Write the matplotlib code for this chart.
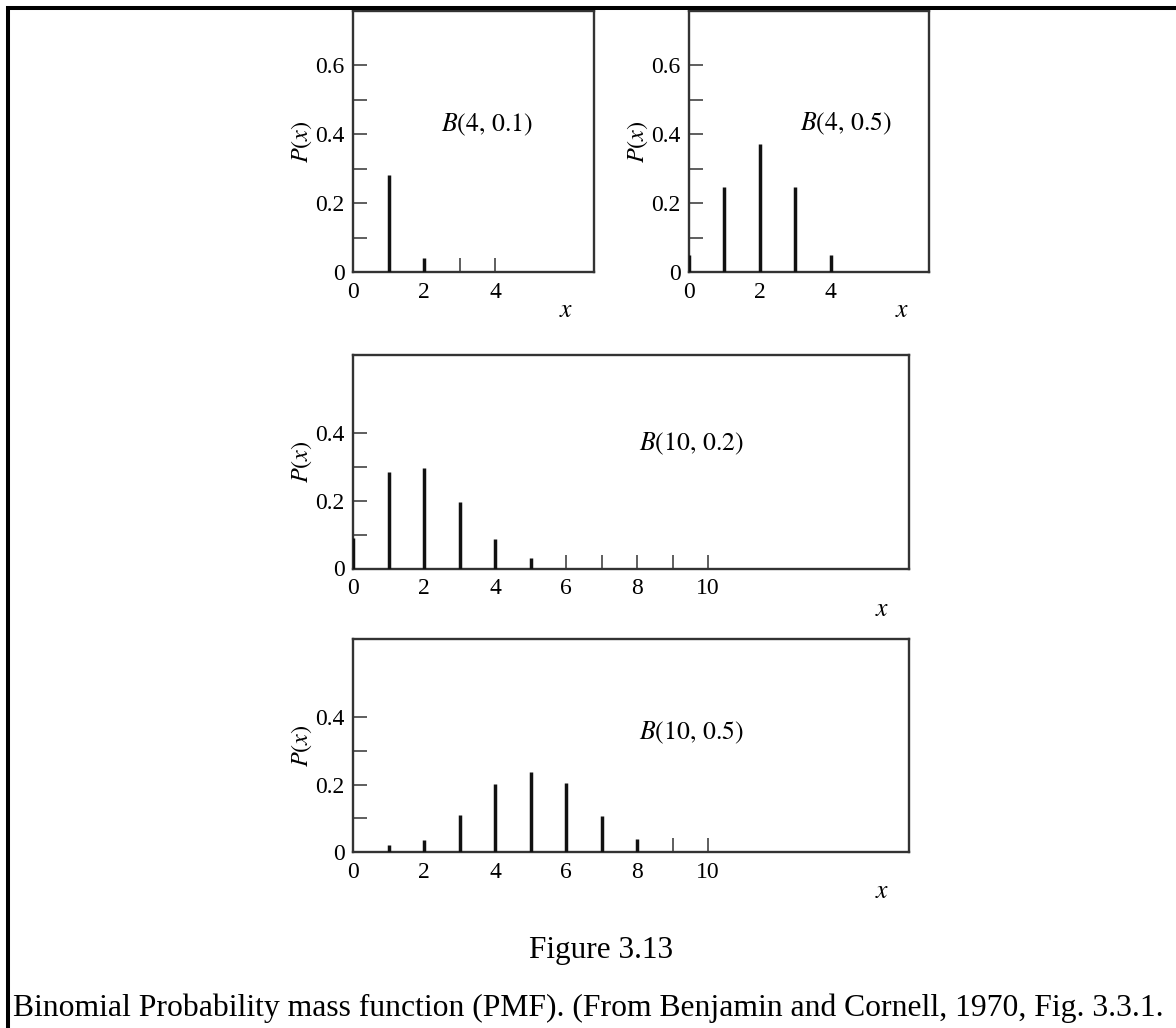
import matplotlib
matplotlib.use("Agg")
import matplotlib.pyplot as plt
from matplotlib.lines import Line2D
from matplotlib.ticker import FixedLocator, FuncFormatter

plt.rcParams["font.family"] = ["Liberation Serif", "DejaVu Serif"]
plt.rcParams["mathtext.fontset"] = "stix"

# values (0 = no visible bar, only the axis tick)
x4 = [0, 1, 2, 3, 4]
p_4_01 = [0.0, 0.28, 0.04, 0.0, 0.0]
p_4_05 = [0.05, 0.245, 0.37, 0.245, 0.05]

x10 = [0, 1, 2, 3, 4, 5, 6, 7, 8, 9, 10]
p_10_02 = [0.09, 0.283, 0.297, 0.197, 0.086, 0.03, 0.0, 0.0, 0.0, 0.0, 0.0]
p_10_05 = [0.0, 0.02, 0.037, 0.109, 0.203, 0.237, 0.205, 0.106, 0.04, 0.0, 0.0]

labels = [r"$B(4,\,0.1)$", r"$B(4,\,0.5)$", r"$B(10,\,0.2)$", r"$B(10,\,0.5)$"]
caption_title = "Figure 3.13"
caption = ("Binomial Probability mass function (PMF). "
           "(From Benjamin and Cornell, 1970, Fig. 3.3.1.")

W, H = 1176, 1028
fig = plt.figure(figsize=(W / 100, H / 100), dpi=100)


def box(x0, y0, x1, y1):
    # pixel box (top-left origin) -> figure fraction rect
    return [x0 / W, 1 - y1 / H, (x1 - x0) / W, (y1 - y0) / H]


def fmt(v, pos):
    return "0" if abs(v) < 1e-9 else f"{v:.1f}"


def panel(rect, xs, ps, xmax, ymax, ymaj, ymin, xlab, label, lab_xy, x_xy):
    ax = fig.add_axes(box(*rect))
    ax.vlines(xs, 0, ps, color="#111111", linewidth=2.5, zorder=3)
    ax.set_xlim(0, xmax)
    ax.set_ylim(0, ymax)
    # labelled x positions carry no mark; the small upward ticks only show
    # where the bar is too small to be seen
    ax.xaxis.set_major_locator(FixedLocator(xlab))
    ax.xaxis.set_minor_locator(FixedLocator([x for x, p in zip(xs, ps) if p == 0]))
    ax.xaxis.remove_overlapping_locs = False
    ax.yaxis.set_major_locator(FixedLocator(ymaj))
    ax.yaxis.set_minor_locator(FixedLocator(ymin))
    ax.yaxis.set_major_formatter(FuncFormatter(fmt))
    ax.tick_params(which="both", direction="in", length=10, width=1.1,
                   color="#333333", labelsize=17, pad=6,
                   top=False, right=False)
    ax.tick_params(axis="x", which="major", length=0, pad=7)
    for s in ax.spines.values():
        s.set_linewidth(1.7)
        s.set_color("#333333")
    ax.set_ylabel(r"$P(x)$", fontsize=17.5, labelpad=1)
    ax.text(lab_xy[0], lab_xy[1], label, transform=ax.transAxes,
            ha="center", va="center", fontsize=18.5)
    ax.text(x_xy[0], x_xy[1], r"$x$", transform=ax.transAxes,
            ha="center", va="center", fontsize=18.5)
    return ax


top_y = [0, 0.2, 0.4, 0.6]
top_ym = [0.1, 0.3, 0.5]
low_y = [0, 0.2, 0.4]
low_ym = [0.1, 0.3]

panel((353, 10.5, 594, 272), x4, p_4_01, 6.78, 0.758, top_y, top_ym,
      [0, 2, 4], labels[0], (0.556, 0.561), (0.884, -0.149))
panel((689, 10.5, 929, 272), x4, p_4_05, 6.78, 0.758, top_y, top_ym,
      [0, 2, 4], labels[1], (0.654, 0.565), (0.8875, -0.149))
panel((353, 355, 909, 568.5), x10, p_10_02, 15.66, 0.629, low_y, low_ym,
      [0, 2, 4, 6, 8, 10], labels[2], (0.608, 0.583), (0.951, -0.194))
panel((353, 639, 909, 852), x10, p_10_05, 15.66, 0.633, low_y, low_ym,
      [0, 2, 4, 6, 8, 10], labels[3], (0.608, 0.559), (0.951, -0.188))

# page frame on the left and top
fig.add_artist(Line2D([8 / W, 8 / W, 1.0], [0.0, 1 - 8 / H, 1 - 8 / H],
                      transform=fig.transFigure, color="black",
                      linewidth=2.9, solid_joinstyle="miter"))

fig.text(601 / W, 1 - 958 / H, caption_title, ha="center", va="baseline",
         fontsize=22.5)
fig.text(13 / W, 1 - 1016 / H, caption, ha="left", va="baseline",
         fontsize=22.8)

fig.savefig("out.png", dpi=100)
